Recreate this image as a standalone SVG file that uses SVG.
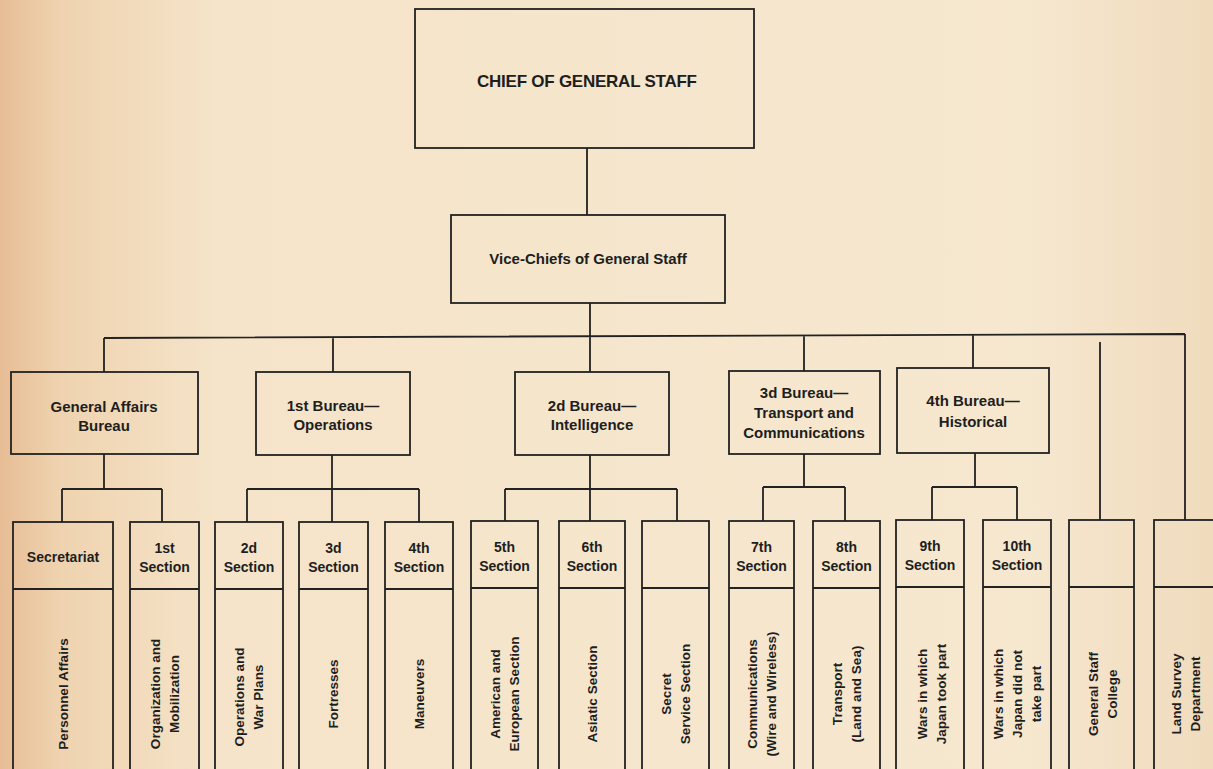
<svg xmlns="http://www.w3.org/2000/svg" width="1213" height="769" viewBox="0 0 1213 769">
<defs>
<linearGradient id="paper" x1="0" y1="0" x2="1" y2="0">
<stop offset="0" stop-color="#e6bd95"/>
<stop offset="0.05" stop-color="#efd3b0"/>
<stop offset="0.18" stop-color="#f5e4c9"/>
<stop offset="0.85" stop-color="#f6e7cf"/>
<stop offset="1" stop-color="#f0dbbd"/>
</linearGradient>
<style>
.box{fill:none;stroke:#222;stroke-width:1.8}
.ln{fill:none;stroke:#222;stroke-width:1.8}
text{font-family:"Liberation Sans",Arial,sans-serif;font-weight:bold;fill:#1e1e1e;text-anchor:middle}
.t1{font-size:17px}
.t2{font-size:15px}
.t3{font-size:14px}
.t4{font-size:13.5px}
</style>
</defs>
<rect x="0" y="0" width="1213" height="769" fill="url(#paper)"/>

<g id="connectors" class="ln">
<path d="M587,148 V215 M590,303 V337 M104,338 L1185,334 M104,338 V372 M333,337 V372 M590,336 V372 M804,335 V371 M973,335 V368 M1100,342 V520 M1185,334 V520"/>
<path d="M104,454 V489 M62,489 H162 M62,489 V522 M162,489 V522"/>
<path d="M332,455 V489 M247,489 H419 M247,489 V522 M332,489 V522 M419,489 V522"/>
<path d="M590,455 V489 M505,489 H677 M505,489 V521 M590,489 V521 M677,489 V521"/>
<path d="M804,454 V487 M763,487 H845 M763,487 V521 M845,487 V521"/>
<path d="M975,453 V487 M932,487 H1017 M932,487 V520 M1017,487 V520"/>
</g>

<g id="chief">
<rect class="box" x="415" y="9" width="339" height="139"/>
<text class="t1" x="587" y="87" textLength="220">CHIEF OF GENERAL STAFF</text>
</g>
<g id="vice">
<rect class="box" x="451" y="215" width="274" height="88"/>
<text class="t2" x="588" y="264">Vice-Chiefs of General Staff</text>
</g>

<g id="general-affairs">
<rect class="box" x="11" y="372" width="187" height="82"/>
<text class="t2" x="104" y="412">General Affairs</text>
<text class="t2" x="104" y="431">Bureau</text>
</g>
<g id="bureau1">
<rect class="box" x="256" y="372" width="154" height="83"/>
<text class="t2" x="333" y="411">1st Bureau—</text>
<text class="t2" x="333" y="430">Operations</text>
</g>
<g id="bureau2">
<rect class="box" x="515" y="372" width="154" height="83"/>
<text class="t2" x="592" y="411">2d Bureau—</text>
<text class="t2" x="592" y="430">Intelligence</text>
</g>
<g id="bureau3">
<rect class="box" x="729" y="371" width="151" height="83"/>
<text class="t2" x="804" y="398">3d Bureau—</text>
<text class="t2" x="804" y="418">Transport and</text>
<text class="t2" x="804" y="438">Communications</text>
</g>
<g id="bureau4">
<rect class="box" x="897" y="368" width="152" height="85"/>
<text class="t2" x="973" y="406">4th Bureau—</text>
<text class="t2" x="973" y="427">Historical</text>
</g>

<g id="secretariat">
<rect class="box" x="13" y="522" width="100" height="260"/>
<path class="ln" d="M13,589 H113"/>
<text class="t3" x="63" y="562">Secretariat</text>
<text class="t4" transform="translate(63,694) rotate(-90)" y="4.5">Personnel Affairs</text>
</g>
<g id="section1">
<rect class="box" x="130" y="522" width="69" height="260"/>
<path class="ln" d="M130,589 H199"/>
<text class="t3" x="164.5" y="553">1st</text>
<text class="t3" x="164.5" y="572">Section</text>
<text class="t4" transform="translate(164.5,694) rotate(-90)"><tspan x="0" y="-5">Organization and</tspan><tspan x="0" y="14">Mobilization</tspan></text>
</g>
<g id="section2">
<rect class="box" x="215" y="522" width="68" height="260"/>
<path class="ln" d="M215,589 H283"/>
<text class="t3" x="249" y="553">2d</text>
<text class="t3" x="249" y="572">Section</text>
<text class="t4" transform="translate(249,697) rotate(-90)"><tspan x="0" y="-5">Operations and</tspan><tspan x="0" y="14">War Plans</tspan></text>
</g>
<g id="section3">
<rect class="box" x="299" y="522" width="69" height="260"/>
<path class="ln" d="M299,589 H368"/>
<text class="t3" x="333.5" y="553">3d</text>
<text class="t3" x="333.5" y="572">Section</text>
<text class="t4" transform="translate(333.5,694) rotate(-90)" y="4.5">Fortresses</text>
</g>
<g id="section4">
<rect class="box" x="385" y="522" width="68" height="260"/>
<path class="ln" d="M385,589 H453"/>
<text class="t3" x="419" y="553">4th</text>
<text class="t3" x="419" y="572">Section</text>
<text class="t4" transform="translate(419,694) rotate(-90)" y="4.5">Maneuvers</text>
</g>
<g id="section5">
<rect class="box" x="471" y="521" width="67" height="260"/>
<path class="ln" d="M471,588 H538"/>
<text class="t3" x="504.5" y="552">5th</text>
<text class="t3" x="504.5" y="571">Section</text>
<text class="t4" transform="translate(504.5,694) rotate(-90)"><tspan x="0" y="-5">American and</tspan><tspan x="0" y="14">European Section</tspan></text>
</g>
<g id="section6">
<rect class="box" x="559" y="521" width="66" height="260"/>
<path class="ln" d="M559,588 H625"/>
<text class="t3" x="592" y="552">6th</text>
<text class="t3" x="592" y="571">Section</text>
<text class="t4" transform="translate(592,694) rotate(-90)" y="4.5">Asiatic Section</text>
</g>
<g id="secret-service">
<rect class="box" x="642" y="521" width="67" height="260"/>
<path class="ln" d="M642,588 H709"/>
<text class="t4" transform="translate(675.5,694) rotate(-90)"><tspan x="0" y="-5">Secret</tspan><tspan x="0" y="14">Service Section</tspan></text>
</g>
<g id="section7">
<rect class="box" x="729" y="521" width="65" height="260"/>
<path class="ln" d="M729,588 H794"/>
<text class="t3" x="761.5" y="552">7th</text>
<text class="t3" x="761.5" y="571">Section</text>
<text class="t4" transform="translate(761.5,694) rotate(-90)"><tspan x="0" y="-5">Communications</tspan><tspan x="0" y="14">(Wire and Wireless)</tspan></text>
</g>
<g id="section8">
<rect class="box" x="813" y="521" width="67" height="260"/>
<path class="ln" d="M813,588 H880"/>
<text class="t3" x="846.5" y="552">8th</text>
<text class="t3" x="846.5" y="571">Section</text>
<text class="t4" transform="translate(846.5,694) rotate(-90)"><tspan x="0" y="-5">Transport</tspan><tspan x="0" y="14">(Land and Sea)</tspan></text>
</g>
<g id="section9">
<rect class="box" x="896" y="520" width="68" height="260"/>
<path class="ln" d="M896,587 H964"/>
<text class="t3" x="930" y="551">9th</text>
<text class="t3" x="930" y="570">Section</text>
<text class="t4" transform="translate(932,694) rotate(-90)"><tspan x="0" y="-5">Wars in which</tspan><tspan x="0" y="14">Japan took part</tspan></text>
</g>
<g id="section10">
<rect class="box" x="983" y="520" width="68" height="260"/>
<path class="ln" d="M983,587 H1051"/>
<text class="t3" x="1017" y="551">10th</text>
<text class="t3" x="1017" y="570">Section</text>
<text class="t4" transform="translate(1017,694) rotate(-90)"><tspan x="0" y="-14.5">Wars in which</tspan><tspan x="0" y="4.5">Japan did not</tspan><tspan x="0" y="23.5">take part</tspan></text>
</g>
<g id="staff-college">
<rect class="box" x="1069" y="520" width="65" height="260"/>
<path class="ln" d="M1069,587 H1134"/>
<text class="t4" transform="translate(1103,694) rotate(-90)"><tspan x="0" y="-5">General Staff</tspan><tspan x="0" y="14">College</tspan></text>
</g>
<g id="land-survey">
<rect class="box" x="1154" y="520" width="80" height="260"/>
<path class="ln" d="M1154,587 H1220"/>
<text class="t4" transform="translate(1186,694) rotate(-90)"><tspan x="0" y="-5">Land Survey</tspan><tspan x="0" y="14">Department</tspan></text>
</g>
</svg>
